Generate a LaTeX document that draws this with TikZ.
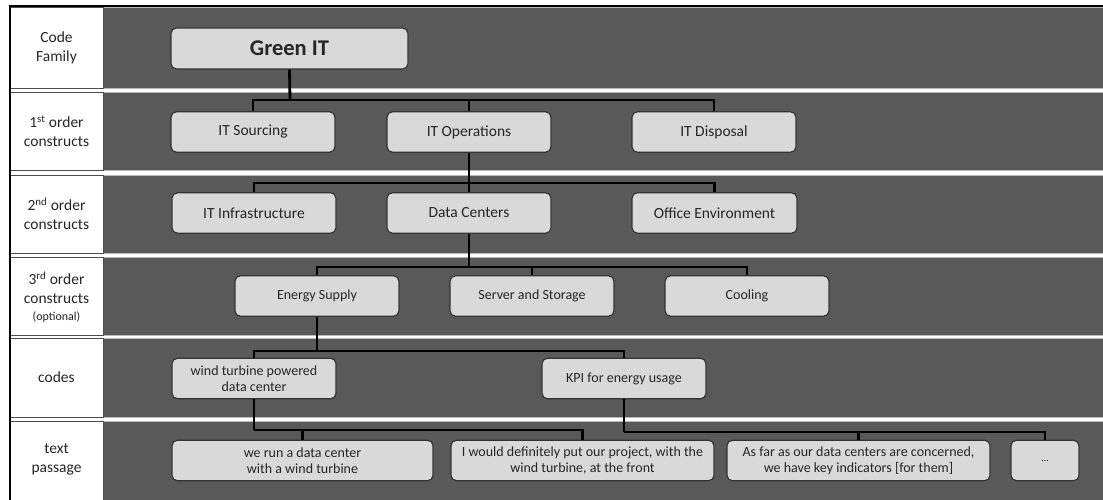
\documentclass[tikz,border=0pt]{standalone}
\usepackage{fontspec}
\setmainfont{Carlito}
\definecolor{bandgray}{HTML}{595959}
\definecolor{boxgray}{HTML}{D9D9D9}
\definecolor{inkgray}{HTML}{262626}
\begin{document}
\begin{tikzpicture}[x=1pt,y=-1pt,
  band/.style={fill=bandgray, draw=gray!55, line width=0.8},
  cell/.style={fill=white, draw=black!70, line width=0.8},
  box/.style={draw=black!80, fill=boxgray, rounded corners=5.5, line width=1.1,
    inner sep=0pt, minimum height=40.5, align=center, text=inkgray,
    font=\fontsize{15.5}{18}\selectfont},
  smallbox/.style={box, font=\fontsize{14}{16}\selectfont},
  conn/.style={line width=2.8, black, line join=miter},
  rowlabel/.style={align=center, text=inkgray, font=\fontsize{15.5}{19}\selectfont}
]
\useasboundingbox (0,0) rectangle (1103,500);

% horizontal bands, one per level
\foreach \ya/\yb in {7/88, 92/170, 175/253, 257/335, 338/417, 421/502} {
  \path[band] (103,\ya) rectangle (1110,\yb);
  \path[cell] (10,\ya) rectangle (103,\yb);
}
\draw[line width=2] (9.5,502) -- (9.5,6.5) -- (1103,6.5);

% level labels
\node[rowlabel] (l1) at (56.5,47.5) {Code\\Family};
\node[rowlabel] (l2) at (56.5,131) {1\textsuperscript{st} order\\constructs};
\node[rowlabel] (l3) at (56.5,214) {2\textsuperscript{nd} order\\constructs};
\node[rowlabel] (l4) at (56.5,297) {3\textsuperscript{rd} order\\constructs\\[-2pt]{\fontsize{12}{14}\selectfont (optional)}};
\node[rowlabel] (l5) at (56.5,377.5) {codes};
\node[rowlabel] (l6) at (56.5,459.5) {text\\passage};

% code family
\node[box, minimum width=237, minimum height=41,
  font=\bfseries\fontsize{22.5}{26}\selectfont] (green) at (289.5,48.5) {Green IT};

% 1st order constructs
\node[box, minimum width=164] (src)  at (253,132) {IT Sourcing};
\node[box, minimum width=164] (ops)  at (469,132) {IT Operations};
\node[box, minimum width=164] (disp) at (714,132) {IT Disposal};

% 2nd order constructs
\node[box, minimum width=164] (infra)  at (254,213) {IT Infrastructure};
\node[box, minimum width=164] (dc)     at (469,213) {Data Centers};
\node[box, minimum width=165] (office) at (714.5,213) {Office Environment};

% 3rd order constructs
\node[smallbox, minimum width=164] (energy) at (317,296) {Energy Supply};
\node[smallbox, minimum width=164] (server) at (532,296) {Server and Storage};
\node[smallbox, minimum width=164] (cool)   at (747,296) {Cooling};

% codes
\node[smallbox, minimum width=164] (wind) at (254,378.5) {wind turbine powered\\data center};
\node[smallbox, minimum width=164] (kpi)  at (624,378.5) {KPI for energy usage};

% text passages
\node[smallbox, minimum width=261] (run)   at (302.5,460.5) {we run a data center\\with a wind turbine};
\node[smallbox, minimum width=263] (would) at (582.5,460.5) {I would definitely put our project, with the\\wind turbine, at the front};
\node[smallbox, minimum width=263] (far)   at (858.5,460.5) {As far as our data centers are concerned,\\we have key indicators [for them]};
\node[smallbox, minimum width=68, font=\fontsize{10}{12}\selectfont] (dots) at (1045,460.5) {…};

% tree connectors
\coordinate (j1) at (290,100);
\draw[conn] (green.south) -- (j1);
\draw[conn] (src.north) |- (j1);
\draw[conn] (ops.north) |- (j1);
\draw[conn] (disp.north) |- (j1);

\coordinate (j2) at (469,183);
\draw[conn] (ops.south) -- (j2);
\draw[conn] (infra.north) |- (j2);
\draw[conn] (dc.north) -- (j2);
\draw[conn] (office.north) |- (j2);

\coordinate (j3) at (469,267);
\draw[conn] (dc.south) -- (j3);
\draw[conn] (energy.north) |- (j3);
\draw[conn] (server.north) |- (j3);
\draw[conn] (cool.north) |- (j3);

\coordinate (j4) at (317,351);
\draw[conn] (energy.south) -- (j4);
\draw[conn] (wind.north) |- (j4);
\draw[conn] (kpi.north) |- (j4);

\coordinate (j5) at (254,430);
\draw[conn] (wind.south) -- (j5);
\draw[conn] (run.north) |- (j5);
\draw[conn] (would.north) |- (j5);

\coordinate (j6) at (624,432);
\draw[conn] (kpi.south) -- (j6);
\draw[conn] (far.north) |- (j6);
\draw[conn] (dots.north) |- (j6);
\end{tikzpicture}
\end{document}
